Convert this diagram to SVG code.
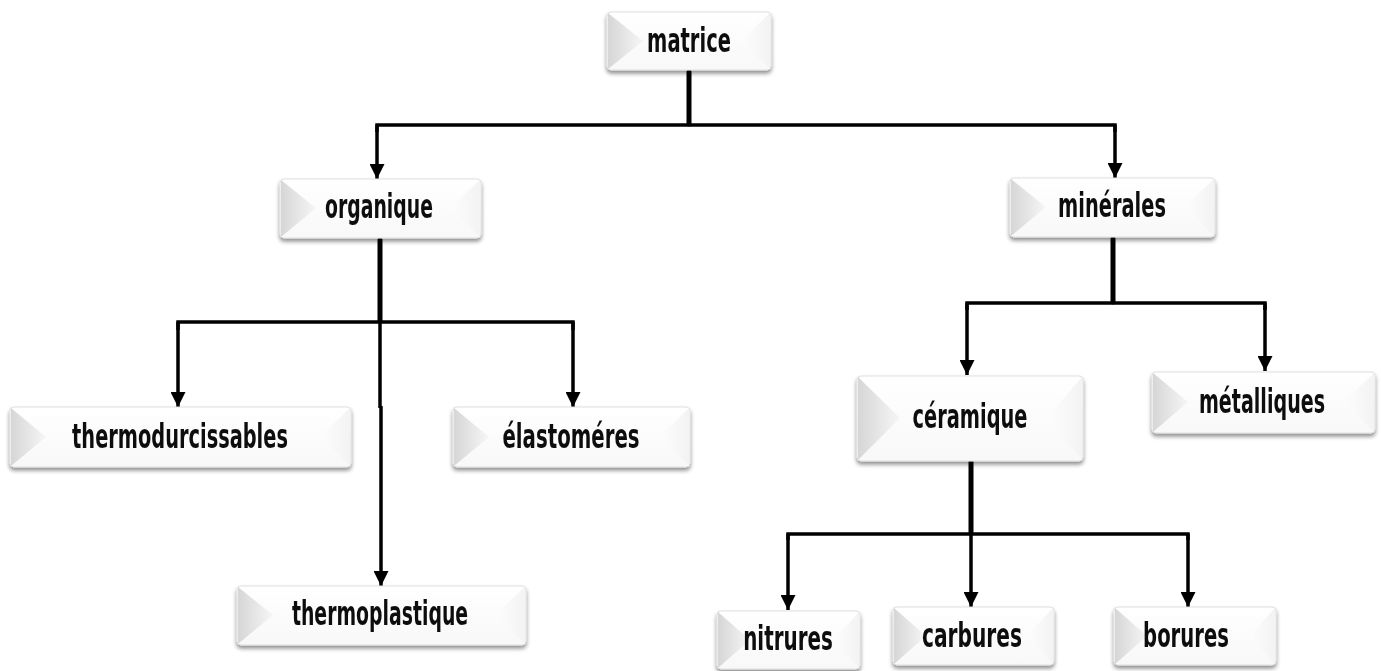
<svg xmlns="http://www.w3.org/2000/svg" width="1381" height="671" viewBox="0 0 1381 671">
<defs>
<linearGradient id="lg" x1="0" y1="0" x2="1" y2="0">
<stop offset="0" stop-color="#d6d6d6"/>
<stop offset="1" stop-color="#f6f6f6"/>
</linearGradient>
<linearGradient id="rg" x1="0" y1="0" x2="1" y2="0">
<stop offset="0" stop-color="#fdfdfd"/>
<stop offset="1" stop-color="#f3f3f3"/>
</linearGradient>
<linearGradient id="tg" x1="0" y1="0" x2="0" y2="1">
<stop offset="0" stop-color="#ffffff"/>
<stop offset="1" stop-color="#f8f8f8"/>
</linearGradient>
<filter id="sh" x="-5%" y="-10%" width="110%" height="130%">
<feGaussianBlur in="SourceAlpha" stdDeviation="2"/>
<feOffset dx="0" dy="3" result="b"/>
<feComponentTransfer><feFuncA type="linear" slope="0.45"/></feComponentTransfer>
<feMerge><feMergeNode/><feMergeNode in="SourceGraphic"/></feMerge>
</filter>
<marker id="ah" markerUnits="userSpaceOnUse" markerWidth="15" markerHeight="15" refX="15" refY="7.5" orient="auto" viewBox="0 0 15 15">
<path d="M0,0 L15,7.5 L0,15 z" fill="#000"/>
</marker>
</defs>
<style>
.box{fill:url(#tg);stroke:#e0e0e0;stroke-width:1}
.lt{fill:url(#lg)}
.rt{fill:url(#rg)}
.lbl{font-family:"DejaVu Sans","Liberation Sans",sans-serif;font-weight:bold;font-size:33px;fill:#111;text-anchor:middle}
.stem{stroke:#000;stroke-width:5;fill:none;stroke-linecap:round}
.ln{stroke:#000;stroke-width:3.5;fill:none;stroke-linejoin:miter}
.arr{stroke:#000;stroke-width:3.5;fill:none;marker-end:url(#ah)}
</style>
<rect width="1381" height="671" fill="#ffffff"/>

<g id="connectors">
<line class="stem" x1="689" y1="72" x2="689" y2="124"/>
<polyline class="ln" points="377,132 377,125 1115,125 1115,132"/>
<line class="arr" x1="377" y1="125" x2="377" y2="179"/>
<line class="arr" x1="1115" y1="125" x2="1115" y2="178"/>

<line class="stem" x1="380" y1="240" x2="380" y2="321"/>
<polyline class="ln" points="178,330 178,322 573,322 573,330"/>
<line class="arr" x1="178" y1="322" x2="178" y2="407"/>
<line class="arr" x1="573" y1="322" x2="573" y2="407"/>
<line class="ln" x1="380" y1="320" x2="380" y2="408"/>
<line class="arr" x1="381" y1="406" x2="381" y2="586"/>

<line class="stem" x1="1113" y1="239" x2="1113" y2="302"/>
<polyline class="ln" points="967,310 967,303 1265,303 1265,310"/>
<line class="arr" x1="967" y1="303" x2="967" y2="375"/>
<line class="arr" x1="1265" y1="303" x2="1265" y2="371"/>

<line class="stem" x1="971" y1="462" x2="971" y2="533"/>
<polyline class="ln" points="788,540 788,534 1188,534 1188,540"/>
<line class="arr" x1="788" y1="534" x2="788" y2="610"/>
<line class="arr" x1="971" y1="534" x2="971" y2="607"/>
<line class="arr" x1="1188" y1="534" x2="1188" y2="607"/>
</g>

<g id="node-matrice" filter="url(#sh)">
<rect class="box" x="607" y="12" width="164" height="58" rx="4"/>
<polygon class="lt" points="608,13 643,41 608,69"/>
<polygon class="rt" points="770,13 740,41 770,69"/>
<text class="lbl" transform="translate(689,52) scale(0.65,1)" x="0" y="0" textLength="129" lengthAdjust="spacingAndGlyphs">matrice</text>
</g>

<g id="node-organique" filter="url(#sh)">
<rect class="box" x="280" y="179" width="201" height="59" rx="4"/>
<polygon class="lt" points="281,180 316,208 281,237"/>
<polygon class="rt" points="480,180 450,208 480,237"/>
<text class="lbl" transform="translate(379,218) scale(0.65,1)" x="0" y="0" textLength="166" lengthAdjust="spacingAndGlyphs">organique</text>
</g>

<g id="node-minerales" filter="url(#sh)">
<rect class="box" x="1010" y="178" width="205" height="59" rx="4"/>
<polygon class="lt" points="1011,179 1046,207 1011,236"/>
<polygon class="rt" points="1214,179 1184,207 1214,236"/>
<text class="lbl" transform="translate(1112,217) scale(0.65,1)" x="0" y="0" textLength="166" lengthAdjust="spacingAndGlyphs">minérales</text>
</g>

<g id="node-thermodurcissables" filter="url(#sh)">
<rect class="box" x="10" y="407" width="341" height="60" rx="4"/>
<polygon class="lt" points="11,408 46,437 11,466"/>
<polygon class="rt" points="350,408 320,437 350,466"/>
<text class="lbl" transform="translate(180,448) scale(0.65,1)" x="0" y="0" textLength="332" lengthAdjust="spacingAndGlyphs">thermodurcissables</text>
</g>

<g id="node-elastomeres" filter="url(#sh)">
<rect class="box" x="453" y="407" width="237" height="60" rx="4"/>
<polygon class="lt" points="454,408 489,437 454,466"/>
<polygon class="rt" points="689,408 659,437 689,466"/>
<text class="lbl" transform="translate(571,448) scale(0.65,1)" x="0" y="0" textLength="211" lengthAdjust="spacingAndGlyphs">élastoméres</text>
</g>

<g id="node-thermoplastique" filter="url(#sh)">
<rect class="box" x="237" y="586" width="289" height="59" rx="4"/>
<polygon class="lt" points="238,587 273,615 238,644"/>
<polygon class="rt" points="525,587 495,615 525,644"/>
<text class="lbl" transform="translate(380,625) scale(0.65,1)" x="0" y="0" textLength="271" lengthAdjust="spacingAndGlyphs">thermoplastique</text>
</g>

<g id="node-ceramique" filter="url(#sh)">
<rect class="box" x="857" y="376" width="226" height="85" rx="4"/>
<polygon class="lt" points="858,377 900,418 858,460"/>
<polygon class="rt" points="1082,377 1047,418 1082,460"/>
<text class="lbl" transform="translate(970,428) scale(0.65,1)" x="0" y="0" textLength="177" lengthAdjust="spacingAndGlyphs">céramique</text>
</g>

<g id="node-metalliques" filter="url(#sh)">
<rect class="box" x="1152" y="372" width="223" height="61" rx="4"/>
<polygon class="lt" points="1153,373 1188,402 1153,432"/>
<polygon class="rt" points="1374,373 1344,402 1374,432"/>
<text class="lbl" transform="translate(1262,413) scale(0.65,1)" x="0" y="0" textLength="194" lengthAdjust="spacingAndGlyphs">métalliques</text>
</g>

<g id="node-nitrures" filter="url(#sh)">
<rect class="box" x="717" y="611" width="143" height="58" rx="4"/>
<polygon class="lt" points="718,612 750,640 718,668"/>
<polygon class="rt" points="859,612 833,640 859,668"/>
<text class="lbl" transform="translate(788,650) scale(0.65,1)" x="0" y="0" textLength="138" lengthAdjust="spacingAndGlyphs">nitrures</text>
</g>

<g id="node-carbures" filter="url(#sh)">
<rect class="box" x="893" y="607" width="161" height="58" rx="4"/>
<polygon class="lt" points="894,608 926,636 894,664"/>
<polygon class="rt" points="1053,608 1027,636 1053,664"/>
<text class="lbl" transform="translate(972,647) scale(0.65,1)" x="0" y="0" textLength="154" lengthAdjust="spacingAndGlyphs">carbures</text>
</g>

<g id="node-borures" filter="url(#sh)">
<rect class="box" x="1114" y="607" width="162" height="58" rx="4"/>
<polygon class="lt" points="1115,608 1147,636 1115,664"/>
<polygon class="rt" points="1275,608 1249,636 1275,664"/>
<text class="lbl" transform="translate(1186,647) scale(0.65,1)" x="0" y="0" textLength="132" lengthAdjust="spacingAndGlyphs">borures</text>
</g>
</svg>
